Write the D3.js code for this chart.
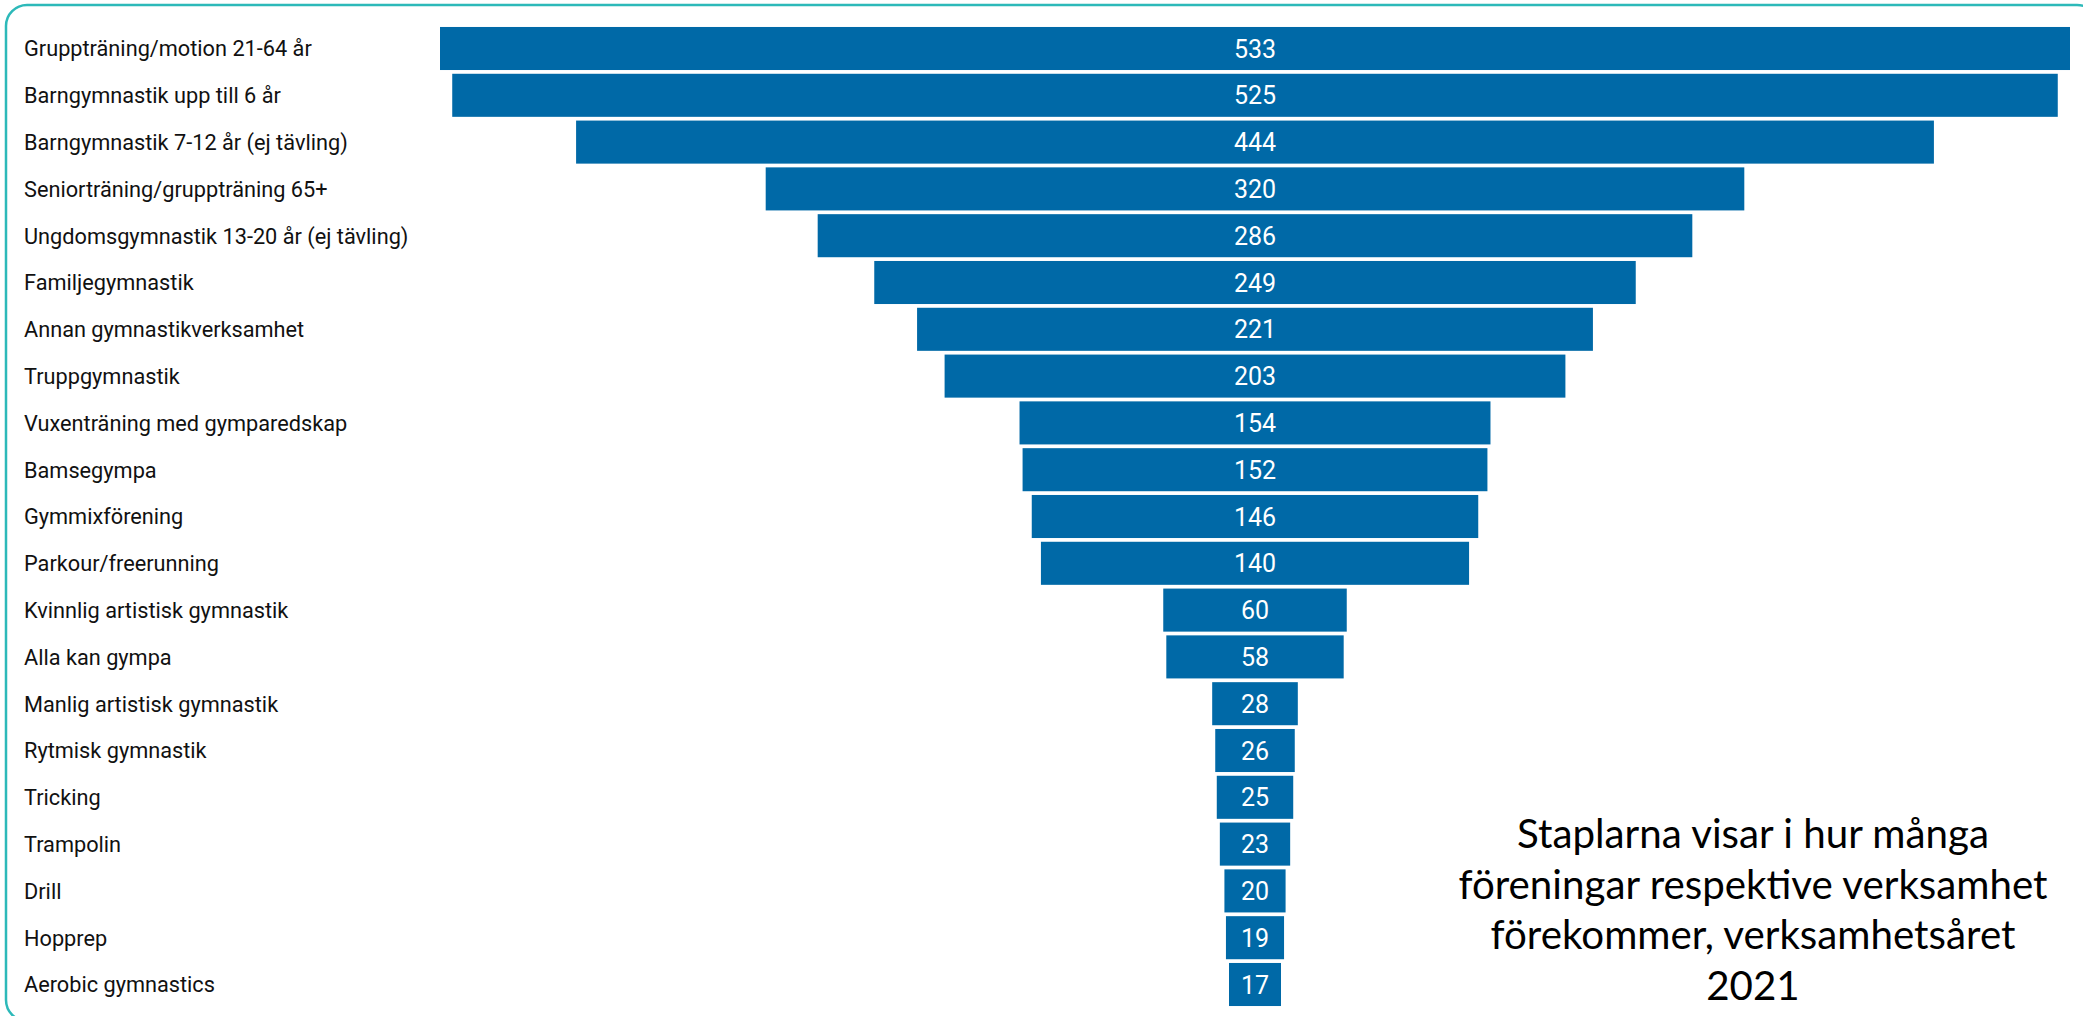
<!DOCTYPE html>
<html>
<head>
<meta charset="utf-8">
<script src="https://cdn.jsdelivr.net/npm/d3@7"></script>
<style>
html,body{margin:0;padding:0;background:#fff;}
svg{display:block;}
</style>
</head>
<body>
<svg id="chart" width="2083" height="1016"></svg>
<script>
const categories = [
  "Gruppträning/motion 21-64 år",
  "Barngymnastik upp till 6 år",
  "Barngymnastik 7-12 år (ej tävling)",
  "Seniorträning/gruppträning 65+",
  "Ungdomsgymnastik 13-20 år (ej tävling)",
  "Familjegymnastik",
  "Annan gymnastikverksamhet",
  "Truppgymnastik",
  "Vuxenträning med gymparedskap",
  "Bamsegympa",
  "Gymmixförening",
  "Parkour/freerunning",
  "Kvinnlig artistisk gymnastik",
  "Alla kan gympa",
  "Manlig artistisk gymnastik",
  "Rytmisk gymnastik",
  "Tricking",
  "Trampolin",
  "Drill",
  "Hopprep",
  "Aerobic gymnastics"
];
const values = [533, 525, 444, 320, 286, 249, 221, 203, 154, 152, 146, 140, 60, 58, 28, 26, 25, 23, 20, 19, 17];
const noteLines = [
  "Staplarna visar i hur många",
  "föreningar respektive verksamhet",
  "förekommer, verksamhetsåret",
  "2021"
];

const svg = d3.select("#chart");

// rounded teal frame
svg.append("rect")
  .attr("x", 6).attr("y", 5)
  .attr("width", 2092).attr("height", 1016)
  .attr("rx", 21).attr("ry", 21)
  .attr("fill", "none")
  .attr("stroke", "#2db9b9")
  .attr("stroke-width", 2.5);

const centerX = 1255;
const x = d3.scaleLinear().domain([0, 533]).range([0, 1630]);
const y = d3.scaleBand()
  .domain(categories)
  .range([25.1, 25.1 + 21 * 46.8])
  .paddingInner(0.08)
  .paddingOuter(0.04);

const data = categories.map((c, i) => ({ c, v: values[i] }));

svg.append("g").selectAll("rect")
  .data(data)
  .join("rect")
  .attr("x", d => centerX - x(d.v) / 2)
  .attr("y", d => y(d.c))
  .attr("width", d => x(d.v))
  .attr("height", y.bandwidth())
  .attr("fill", "#0069a7");

svg.append("g").selectAll("text")
  .data(data)
  .join("text")
  .attr("x", centerX)
  .attr("y", d => y(d.c) + y.bandwidth() / 2)
  .attr("dy", "0.36em")
  .attr("text-anchor", "middle")
  .attr("fill", "#ffffff")
  .style("font-family", "Roboto, 'DejaVu Sans', sans-serif")
  .style("font-size", "25px")
  .text(d => d.v);

// category labels
const labels = svg.append("g").selectAll("text")
  .data(data)
  .join("text")
  .attr("x", 24)
  .attr("y", d => y(d.c) + y.bandwidth() / 2)
  .attr("dy", "0.36em")
  .attr("fill", "#111")
  .style("font-family", "Roboto, 'DejaVu Sans', sans-serif")
  .style("font-size", "20px")
  .text(d => d.c);
const w0 = labels.node().getComputedTextLength();
labels.style("font-size", (20 * 288 / w0) + "px");

// note
const note = svg.append("g").selectAll("text")
  .data(noteLines)
  .join("text")
  .attr("x", 1753)
  .attr("y", (d, i) => 834 + i * 50.5)
  .attr("dy", "0.35em")
  .attr("text-anchor", "middle")
  .attr("fill", "#000")
  .style("font-family", "Lato, 'Open Sans', sans-serif")
  .style("font-size", "34px")
  .text(d => d);
const nw = note.node().getComputedTextLength();
note.style("font-size", (34 * 472 / nw) + "px");
</script>
</body>
</html>
